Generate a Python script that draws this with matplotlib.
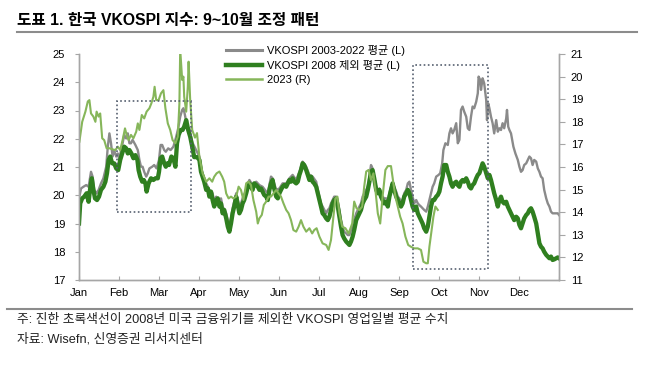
import matplotlib
matplotlib.use('Agg')
import matplotlib.pyplot as plt
from matplotlib.patches import Rectangle
from matplotlib.lines import Line2D

plt.rcParams['font.family'] = ['Liberation Sans', 'Noto Sans CJK KR', 'DejaVu Sans']

months = ['Jan', 'Feb', 'Mar', 'Apr', 'May', 'Jun', 'Jul', 'Aug', 'Sep', 'Oct', 'Nov', 'Dec']

# x = months since Jan 1
avg_x = [0.01, 0.05, 0.11, 0.18, 0.24, 0.30, 0.34, 0.38, 0.44, 0.49, 0.55, 0.61, 0.68, 0.72, 0.76, 0.80,
         0.84, 0.88, 0.93, 0.97, 1.01, 1.05, 1.09, 1.13, 1.18, 1.22, 1.26, 1.30, 1.34, 1.41, 1.47, 1.51,
         1.55, 1.59, 1.63, 1.68, 1.72, 1.76, 1.83, 1.88, 1.94, 2.00, 2.04, 2.08, 2.13, 2.17, 2.23, 2.29,
         2.36, 2.43, 2.48, 2.53, 2.58, 2.61, 2.64, 2.68, 2.72, 2.76, 2.80, 2.84, 2.93, 3.01, 3.05, 3.09,
         3.18, 3.26, 3.34, 3.38, 3.43, 3.51, 3.55, 3.59, 3.68, 3.72, 3.76, 3.80, 3.84, 3.88, 3.93, 3.97,
         4.01, 4.05, 4.09, 4.18, 4.22, 4.26, 4.34, 4.43, 4.51, 4.59, 4.68, 4.72, 4.80, 4.84, 4.93, 5.01,
         5.09, 5.18, 5.26, 5.34, 5.43, 5.51, 5.59, 5.68, 5.76, 5.84, 5.93, 5.97, 6.01, 6.05, 6.09, 6.18,
         6.22, 6.26, 6.30, 6.34, 6.38, 6.43, 6.47, 6.51, 6.55, 6.59, 6.63, 6.68, 6.72, 6.76, 6.80, 6.84,
         6.88, 6.93, 6.97, 7.01, 7.05, 7.09, 7.13, 7.18, 7.22, 7.26, 7.30, 7.34, 7.38, 7.43, 7.47, 7.51,
         7.55, 7.59, 7.63, 7.68, 7.72, 7.76, 7.80, 7.84, 7.88, 7.93, 7.97, 8.01, 8.05, 8.09, 8.13, 8.18,
         8.22, 8.26, 8.30, 8.34, 8.38, 8.43, 8.47, 8.51, 8.55, 8.59, 8.63, 8.68, 8.72, 8.76, 8.80, 8.84,
         8.88, 8.93, 8.99, 9.03, 9.08, 9.11, 9.16, 9.22, 9.26, 9.30, 9.34, 9.38, 9.43, 9.47, 9.51, 9.55,
         9.59, 9.63, 9.68, 9.72, 9.76, 9.80, 9.84, 9.88, 9.93, 9.97, 9.99, 10.03, 10.05, 10.09, 10.13, 10.18,
         10.20, 10.23, 10.26, 10.30, 10.34, 10.38, 10.43, 10.47, 10.51, 10.55, 10.59, 10.63, 10.68, 10.70, 10.73, 10.76,
         10.80, 10.86, 10.91, 10.97, 11.01, 11.05, 11.09, 11.13, 11.18, 11.22, 11.26, 11.30, 11.34, 11.38, 11.43, 11.47,
         11.51, 11.55, 11.59, 11.63, 11.68, 11.72, 11.76, 11.80, 11.84, 11.93, 11.97, 12.00]
avg_all = [19.95, 20.24, 20.30, 20.36, 20.30, 20.83, 20.66, 20.19, 20.07, 20.19, 20.42, 20.60, 21.01, 21.72, 22.19, 21.84,
           21.37, 21.60, 21.37, 21.48, 21.25, 21.60, 21.84, 22.13, 22.01, 22.19, 21.84, 21.84, 21.96, 21.78, 21.60, 21.25,
           21.01, 21.01, 20.83, 20.66, 20.78, 20.95, 21.01, 21.07, 20.95, 21.25, 21.78, 21.78, 21.60, 21.54, 21.66, 21.60,
           21.72, 22.07, 22.37, 22.78, 23.02, 23.08, 22.90, 22.60, 22.31, 22.37, 22.07, 21.85, 21.60, 21.37, 21.01, 20.78,
           20.42, 20.19, 20.07, 19.77, 19.95, 19.77, 19.89, 19.60, 19.36, 19.12, 18.95, 19.18, 19.54, 19.77, 20.07, 19.83,
           19.60, 19.71, 19.89, 20.19, 20.42, 20.54, 20.36, 20.48, 20.36, 20.30, 20.13, 20.07, 20.66, 20.60, 20.19, 20.24,
           20.42, 20.42, 20.60, 20.72, 20.54, 20.83, 21.19, 21.01, 20.72, 20.66, 20.48, 20.19, 19.95, 19.71, 19.60, 19.36,
           19.48, 19.54, 19.71, 19.83, 19.95, 19.95, 19.71, 19.48, 19.12, 18.89, 18.71, 18.65, 18.59, 18.59, 18.77, 18.89,
           19.12, 19.36, 19.48, 19.60, 19.71, 19.95, 20.07, 20.19, 20.30, 20.66, 21.07, 20.95, 20.66, 20.30, 20.19, 20.24,
           20.07, 19.95, 19.89, 19.89, 19.77, 20.07, 20.30, 20.42, 20.30, 20.13, 19.95, 19.89, 19.77, 19.83, 20.07, 20.19,
           20.42, 20.48, 20.19, 19.95, 19.71, 19.83, 19.71, 19.65, 19.60, 19.54, 19.48, 19.42, 19.60, 19.83, 20.07, 20.30,
           20.42, 20.66, 20.72, 20.78, 21.13, 21.60, 21.84, 21.78, 22.19, 22.37, 22.19, 22.31, 22.55, 21.84, 21.96, 23.02,
           23.14, 22.96, 22.78, 22.37, 22.31, 22.78, 23.14, 23.08, 23.31, 23.61, 24.20, 24.08, 23.73, 24.14, 23.96, 23.37,
           22.66, 23.25, 23.08, 22.78, 22.55, 22.19, 22.66, 22.25, 22.37, 22.31, 22.55, 22.37, 22.72, 23.02, 22.43, 22.31,
           22.19, 21.72, 21.48, 21.25, 21.01, 20.83, 20.89, 21.07, 21.13, 21.25, 21.37, 21.31, 21.07, 21.25, 21.19, 20.95,
           20.83, 20.66, 20.60, 20.19, 19.89, 19.71, 19.60, 19.42, 19.36, 19.36, 19.36, 19.30]

ex08_x = [0.00, 0.03, 0.08, 0.13, 0.19, 0.24, 0.28, 0.32, 0.36, 0.40, 0.45, 0.50, 0.55, 0.61, 0.66, 0.70,
          0.74, 0.78, 0.83, 0.88, 0.93, 0.98, 1.03, 1.08, 1.13, 1.18, 1.22, 1.26, 1.31, 1.36, 1.41, 1.46,
          1.49, 1.53, 1.58, 1.62, 1.66, 1.69, 1.74, 1.80, 1.86, 1.91, 1.97, 2.00, 2.04, 2.08, 2.13, 2.17,
          2.21, 2.25, 2.31, 2.36, 2.41, 2.45, 2.49, 2.54, 2.59, 2.63, 2.68, 2.73, 2.78, 2.83, 2.88, 2.95,
          3.01, 3.05, 3.09, 3.13, 3.18, 3.22, 3.26, 3.30, 3.34, 3.38, 3.43, 3.47, 3.51, 3.55, 3.59, 3.63,
          3.68, 3.72, 3.76, 3.80, 3.84, 3.88, 3.93, 3.97, 4.01, 4.05, 4.09, 4.13, 4.18, 4.22, 4.26, 4.30,
          4.34, 4.38, 4.43, 4.47, 4.51, 4.55, 4.59, 4.63, 4.68, 4.72, 4.76, 4.80, 4.84, 4.88, 4.93, 4.97,
          5.01, 5.05, 5.09, 5.13, 5.18, 5.22, 5.26, 5.30, 5.34, 5.38, 5.43, 5.47, 5.51, 5.55, 5.59, 5.63,
          5.68, 5.72, 5.76, 5.80, 5.84, 5.88, 5.93, 5.97, 6.01, 6.05, 6.09, 6.13, 6.18, 6.22, 6.26, 6.30,
          6.34, 6.38, 6.43, 6.47, 6.51, 6.55, 6.59, 6.63, 6.68, 6.72, 6.76, 6.80, 6.84, 6.88, 6.93, 6.97,
          7.01, 7.05, 7.09, 7.13, 7.18, 7.22, 7.26, 7.30, 7.34, 7.38, 7.43, 7.47, 7.51, 7.55, 7.59, 7.63,
          7.68, 7.72, 7.76, 7.80, 7.84, 7.88, 7.93, 7.97, 8.01, 8.05, 8.09, 8.13, 8.18, 8.22, 8.26, 8.30,
          8.34, 8.38, 8.43, 8.47, 8.51, 8.55, 8.59, 8.63, 8.68, 8.72, 8.76, 8.80, 8.84, 8.88, 8.93, 8.97,
          9.01, 9.05, 9.09, 9.13, 9.18, 9.22, 9.26, 9.30, 9.34, 9.38, 9.43, 9.47, 9.51, 9.55, 9.59, 9.63,
          9.68, 9.72, 9.76, 9.80, 9.84, 9.88, 9.93, 9.97, 10.01, 10.05, 10.09, 10.13, 10.18, 10.22, 10.26, 10.30,
          10.34, 10.38, 10.43, 10.47, 10.51, 10.55, 10.59, 10.63, 10.68, 10.72, 10.76, 10.80, 10.84, 10.88, 10.93, 10.97,
          11.01, 11.05, 11.09, 11.13, 11.18, 11.22, 11.26, 11.30, 11.34, 11.38, 11.43, 11.47, 11.51, 11.55, 11.59, 11.63,
          11.68, 11.72, 11.76, 11.80, 11.84, 11.88, 11.93, 11.97, 12.00]
avg_ex2008 = [19.00, 19.71, 19.89, 19.95, 20.07, 19.77, 20.24, 20.60, 20.19, 19.89, 19.83, 19.95, 20.19, 20.30, 20.48, 20.78,
              21.25, 21.37, 21.13, 21.13, 20.95, 20.89, 21.25, 21.48, 21.72, 21.66, 21.48, 21.60, 21.48, 21.31, 21.42, 21.25,
              20.89, 20.66, 20.48, 20.54, 20.42, 20.13, 20.42, 20.60, 20.54, 20.60, 20.60, 20.83, 21.31, 21.37, 21.13, 21.01,
              21.13, 21.07, 21.37, 21.31, 21.01, 21.84, 22.13, 22.31, 22.31, 22.43, 22.66, 22.31, 22.07, 21.72, 21.35, 21.35,
              21.25, 20.83, 20.66, 20.48, 20.19, 20.24, 19.95, 20.13, 19.83, 19.60, 19.83, 19.89, 19.60, 19.71, 19.36, 19.48,
              19.18, 18.89, 18.71, 19.00, 19.36, 19.60, 19.95, 19.65, 19.36, 19.48, 19.71, 19.83, 20.07, 20.30, 20.42, 20.30,
              20.19, 20.42, 20.36, 20.30, 20.19, 20.24, 20.13, 20.01, 19.95, 19.83, 20.19, 20.42, 20.54, 20.24, 19.95, 19.89,
              20.07, 20.19, 20.30, 20.36, 20.30, 20.42, 20.54, 20.48, 20.60, 20.48, 20.42, 20.48, 20.72, 20.89, 21.13, 21.07,
              20.89, 20.72, 20.54, 20.66, 20.48, 20.42, 20.30, 20.07, 19.83, 19.60, 19.36, 19.30, 19.18, 19.12, 19.24, 19.48,
              19.71, 19.83, 19.89, 19.60, 19.24, 18.89, 18.59, 18.47, 18.36, 18.30, 18.24, 18.36, 18.53, 18.77, 19.12, 19.24,
              19.36, 19.48, 19.71, 19.83, 19.95, 20.19, 20.48, 20.83, 20.89, 20.60, 20.19, 20.07, 20.19, 19.95, 19.83, 19.71,
              19.77, 19.60, 19.95, 20.19, 20.42, 20.19, 19.95, 19.83, 19.71, 19.60, 19.71, 19.95, 20.07, 20.19, 20.07, 19.83,
              19.60, 19.48, 19.60, 19.36, 19.24, 19.12, 19.00, 18.83, 18.71, 18.89, 19.24, 19.60, 19.83, 19.83, 19.95, 20.01,
              20.13, 20.42, 20.66, 21.07, 21.07, 20.83, 20.66, 20.42, 20.30, 20.42, 20.48, 20.36, 20.30, 20.48, 20.54, 20.48,
              20.60, 20.48, 20.30, 20.24, 20.36, 20.42, 20.60, 20.72, 20.78, 20.95, 21.13, 21.01, 20.78, 20.60, 20.72, 20.54,
              20.30, 20.07, 19.83, 19.60, 19.83, 19.95, 19.77, 19.71, 19.77, 19.60, 19.48, 19.36, 19.24, 19.12, 19.24, 19.18,
              18.95, 18.83, 19.00, 19.18, 19.30, 19.36, 19.48, 19.54, 19.42, 19.24, 19.00, 18.65, 18.30, 18.18, 18.12, 18.00,
              17.89, 17.83, 17.77, 17.83, 17.71, 17.73, 17.77, 17.80, 17.77]

y23_x = [0.01, 0.08, 0.16, 0.22, 0.26, 0.30, 0.36, 0.41, 0.44, 0.49, 0.53, 0.58, 0.63, 0.69, 0.76, 0.84,
         0.91, 0.97, 1.03, 1.09, 1.15, 1.19, 1.24, 1.30, 1.36, 1.43, 1.47, 1.51, 1.57, 1.63, 1.69, 1.76,
         1.81, 1.86, 1.89, 1.93, 1.99, 2.05, 2.11, 2.16, 2.22, 2.28, 2.34, 2.41, 2.47, 2.51, 2.53, 2.58,
         2.61, 2.63, 2.68, 2.72, 2.74, 2.78, 2.83, 2.90, 2.95, 3.01, 3.09, 3.18, 3.26, 3.33, 3.38, 3.44,
         3.51, 3.58, 3.63, 3.68, 3.74, 3.80, 3.86, 3.93, 3.99, 4.05, 4.11, 4.18, 4.24, 4.30, 4.36, 4.43,
         4.47, 4.51, 4.57, 4.62, 4.68, 4.74, 4.80, 4.86, 4.93, 4.99, 5.05, 5.11, 5.18, 5.24, 5.30, 5.36,
         5.43, 5.49, 5.55, 5.61, 5.68, 5.76, 5.83, 5.88, 5.94, 6.01, 6.09, 6.18, 6.24, 6.30, 6.36, 6.41,
         6.46, 6.51, 6.58, 6.66, 6.74, 6.83, 6.88, 6.94, 7.01, 7.08, 7.13, 7.18, 7.24, 7.30, 7.36, 7.41,
         7.47, 7.53, 7.59, 7.66, 7.72, 7.80, 7.86, 7.91, 7.97, 8.03, 8.09, 8.16, 8.23, 8.30, 8.38, 8.47,
         8.55, 8.61, 8.68, 8.72, 8.76, 8.80, 8.86, 8.91, 8.97]
vkospi_2023 = [17.12, 18.00, 18.45, 18.90, 18.96, 18.37, 18.23, 18.00, 18.45, 18.23, 18.37, 17.27, 17.19, 16.83, 16.83, 16.78,
               16.75, 16.90, 16.75, 17.19, 17.71, 17.42, 17.19, 17.42, 17.27, 17.56, 17.93, 17.64, 18.30, 18.15, 18.45, 18.60,
               18.82, 19.11, 19.55, 18.96, 18.96, 19.26, 19.40, 18.60, 17.93, 17.64, 17.19, 17.05, 17.34, 18.82, 21.20, 19.85,
               20.00, 19.11, 18.45, 19.55, 20.66, 18.96, 17.64, 17.30, 17.50, 16.45, 15.72, 15.35, 15.50, 15.35, 15.57, 15.72,
               15.80, 15.57, 15.35, 14.83, 14.61, 14.69, 14.61, 14.69, 15.13, 14.98, 14.54, 15.28, 15.35, 15.20, 14.54, 14.02,
               13.50, 13.73, 13.88, 14.32, 14.47, 14.69, 14.69, 14.83, 14.98, 14.83, 14.69, 14.40, 14.10, 13.95, 13.65, 13.21,
               13.14, 13.36, 13.65, 13.36, 13.14, 13.29, 13.06, 13.21, 13.29, 12.92, 12.62, 12.55, 12.33, 12.77, 13.80, 14.61,
               14.69, 13.95, 13.36, 13.29, 13.06, 13.50, 14.47, 14.17, 14.10, 14.25, 15.13, 15.80, 15.87, 15.42, 15.72, 14.98,
               13.95, 13.50, 14.69, 15.87, 16.04, 16.04, 15.28, 14.69, 14.25, 13.80, 13.50, 12.92, 12.55, 12.47, 12.40, 12.40,
               12.33, 11.81, 11.74, 11.74, 12.47, 12.99, 13.80, 14.25, 14.10]

# dotted boxes: (start month, end month, low, high) on left axis
box_feb_mar = (0.95, 2.80, 19.41, 23.34)
box_sep_oct = (8.35, 10.22, 17.40, 24.61)

grey = '#8a8a8a'
dark_green = '#2f7f1f'
light_green = '#86b65a'
axis_col = '#a6a6a6'

fig = plt.figure(figsize=(6.47, 3.72), dpi=100)
ax = fig.add_axes([79/647, 1 - 280/372, 480/647, 226/372])
ax2 = ax.twinx()

ax.plot(avg_x, avg_all, color=grey, lw=1.7, zorder=2)
ax.plot(ex08_x, avg_ex2008, color=dark_green, lw=3.1, zorder=3, solid_joinstyle='round')
ax2.plot(y23_x, vkospi_2023, color=light_green, lw=1.5, zorder=2)

for x0, x1, lo, hi in [box_feb_mar, box_sep_oct]:
    ax2.add_patch(Rectangle((x0, lo), x1 - x0, hi - lo, transform=ax.transData, fill=False,
                            ec='#566070', lw=1.2, ls=(0, (1, 1.5)), zorder=5))

ax.set_xlim(0, 12)
ax.set_ylim(17, 25)
ax2.set_ylim(11, 21)
ax.set_yticks(range(17, 26))
ax2.set_yticks(range(11, 22))
ax.set_xticks(range(13))
ax.set_xticklabels(months + [''])

for a in (ax, ax2):
    a.spines['top'].set_visible(False)
    for s in ('left', 'right', 'bottom'):
        a.spines[s].set_color(axis_col)
        a.spines[s].set_linewidth(1.0)
ax.tick_params(axis='y', direction='out', length=3, color=axis_col, labelsize=8, pad=7)
ax2.tick_params(axis='y', direction='out', length=4, color=axis_col, labelsize=8, pad=4.5)
ax.tick_params(axis='x', direction='in', length=3, color=axis_col, labelsize=8, pad=6)

handles = [Line2D([], [], color=grey, lw=2.2),
           Line2D([], [], color=dark_green, lw=3.2),
           Line2D([], [], color=light_green, lw=1.8)]
labels = ['VKOSPI 2003-2022 평균 (L)', 'VKOSPI 2008 제외 평균 (L)', '2023 (R)']
fig.legend(handles, labels, loc='upper left', bbox_to_anchor=(226/647, 1 - 45/372),
           frameon=False, fontsize=8, handlelength=3.2, handletextpad=0.45,
           labelspacing=0.35, borderpad=0, borderaxespad=0)

fig.text(17/647, 1 - 20/372, '도표 1. 한국 VKOSPI 지수: 9~10월 조정 패턴', fontsize=11.3,
         fontweight='bold', va='center', ha='left')
fig.add_artist(Line2D([17/647, 637/647], [1 - 32/372, 1 - 32/372], color='#8c8c8c', lw=1.5))
fig.add_artist(Line2D([7/647, 632/647], [1 - 309/372, 1 - 309/372], color='#8c8c8c', lw=1.5))
fig.text(17/647, 1 - 320/372, '주: 진한 초록색선이 2008년 미국 금융위기를 제외한 VKOSPI 영업일별 평균 수치',
         fontsize=9.2, va='center', ha='left', color='#222222')
fig.text(17/647, 1 - 339/372, '자료: Wisefn, 신영증권 리서치센터',
         fontsize=9.2, va='center', ha='left', color='#222222')

fig.savefig('out.png', dpi=100)
